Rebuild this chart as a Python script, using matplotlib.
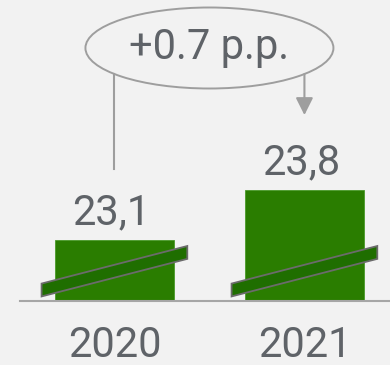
import matplotlib
matplotlib.use('Agg')
import matplotlib.pyplot as plt
from matplotlib.patches import Ellipse, Polygon
import numpy as np

years = ['2020', '2021']
values = [23.1, 23.8]
value_labels = ['23,1', '23,8']
change_label = '+0.7 p.p.'

plt.rcParams['font.family'] = ['Roboto', 'DejaVu Sans']
bg = '#f2f2f2'
green = '#2a7d00'
band_green = '#1f6e00'
txt = '#5f6368'
line_gray = '#9e9e9e'

fig = plt.figure(figsize=(3.9, 3.65), dpi=100, facecolor=bg)
ax = fig.add_axes([20 / 390, 64 / 365, 370 / 390, 301 / 365])
ax.set_facecolor(bg)

x = np.arange(len(years))
w = 0.63
ybot = 22.246
ax.set_xlim(-0.497, -0.497 + 370 / 190)
ax.set_ylim(ybot, ybot + 301 / 71.4)

ax.bar(x, values, width=w, color=green, edgecolor='#4a9a2a', linewidth=0.6, zorder=2)

# value labels
for xi, v, lab in zip(x, values, value_labels):
    ax.annotate(lab, (xi, v), xytext=(-2, 11), textcoords='offset points',
                ha='center', va='baseline', fontsize=30, color=txt)

# axis-break bands across the bars
ext = w / 2 + 13 / 190
for xi in x:
    y_l, y_r, th = ybot + 0.154, ybot + 0.68, 0.09
    pts = [(xi - ext, y_l - th), (xi + ext, y_r - th), (xi + ext, y_r + th), (xi - ext, y_l + th)]
    ax.add_patch(Polygon(pts, closed=True, facecolor=band_green, edgecolor='#6b6b6b',
                         linewidth=1.3, zorder=3, clip_on=False))

# change bubble
cx = x.mean()
cy = ybot + 253 / 71.4
ew, eh = 248 / 190, 81 / 71.4
ax.add_patch(Ellipse((cx, cy), ew, eh, facecolor='none', edgecolor=line_gray,
                     linewidth=1.4, clip_on=False, zorder=4))
ax.text(cx, cy, change_label, ha='center', va='center', fontsize=30, color=txt)

# connector lines
dx = (x[0] - cx) / (ew / 2)
edge_y = cy - (eh / 2) * np.sqrt(1 - dx ** 2)
ax.plot([x[0], x[0]], [values[0] + 1.0, edge_y], color=line_gray, lw=1.5, zorder=1)
ax.annotate('', xy=(x[1], values[1] + 1.05), xytext=(x[1], edge_y),
            arrowprops=dict(arrowstyle='-|>,head_length=0.7,head_width=0.35',
                            mutation_scale=15, color=line_gray, lw=1.5,
                            shrinkA=0, shrinkB=0))

ax.set_xticks(x)
ax.set_xticklabels(years, fontsize=30, color=txt)
ax.tick_params(axis='x', length=0, pad=17.5)
ax.set_yticks([])
for s in ['top', 'left', 'right']:
    ax.spines[s].set_visible(False)
ax.spines['bottom'].set_color('#a6a6a6')
ax.spines['bottom'].set_linewidth(1.5)

fig.savefig('out.png', dpi=100, facecolor=bg)
